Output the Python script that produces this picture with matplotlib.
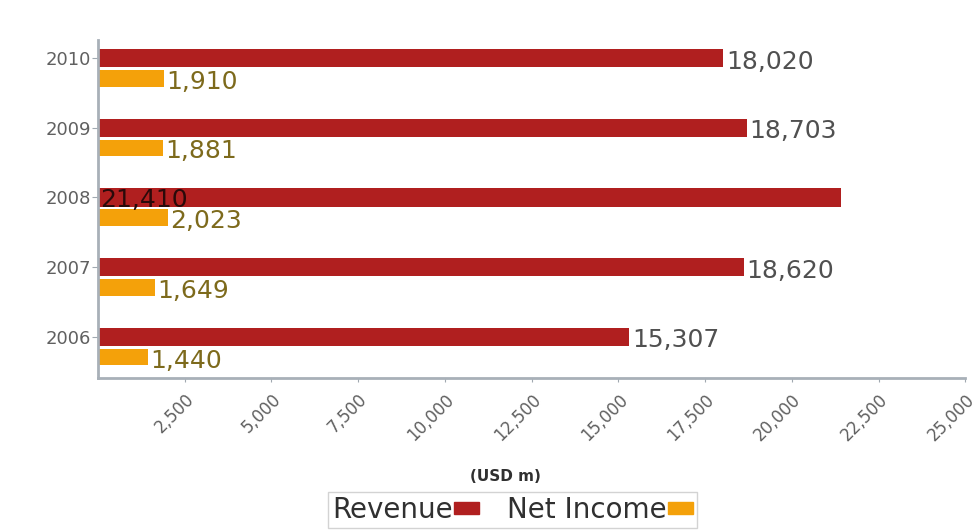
import matplotlib
matplotlib.use("Agg")
import matplotlib.pyplot as plt
from matplotlib.patches import Patch

# data
years = ["2006", "2007", "2008", "2009", "2010"]
revenue = [15307, 18620, 21410, 18703, 18020]
net_income = [1440, 1649, 2023, 1881, 1910]
x_ticks = [2500, 5000, 7500, 10000, 12500, 15000, 17500, 20000, 22500, 25000]

rev_color = "#b01f1f"
ni_color = "#f4a10a"
label_gray = "#505050"
ni_text = "#7d6a1c"

fig = plt.figure(figsize=(9.8, 5.32), dpi=100)
ax = fig.add_axes([0.1, 0.2895, 0.885, 0.6355])

pos = list(range(len(years)))
rev_y = [p for p in pos]
ni_y = [p - 0.29 for p in pos]

ax.barh(rev_y, revenue, height=0.26, color=rev_color)
ax.barh(ni_y, net_income, height=0.24, color=ni_color)

# value labels
for y, v in zip(rev_y, revenue):
    if v > 20000:
        # the biggest one sits inside the bar, at its start
        ax.text(60, y - 0.03, f"{v:,}", va="center", ha="left",
                fontsize=18, color="#2a0a0a")
    else:
        ax.text(v + 80, y - 0.05, f"{v:,}", va="center", ha="left",
                fontsize=18, color=label_gray)
for y, v in zip(ni_y, net_income):
    ax.text(v + 60, y - 0.05, f"{v:,}", va="center", ha="left",
            fontsize=18, color=ni_text)

ax.set_xlim(0, 25000)
ax.set_ylim(-0.59, 4.26)
ax.set_yticks(pos)
ax.set_yticklabels(years, fontsize=13, color="#606060")
ax.set_xticks(x_ticks)
ax.set_xticklabels([f"{t:,}" for t in x_ticks], rotation=45, ha="right",
                   rotation_mode="anchor", fontsize=12, color="#606060")
ax.tick_params(axis="y", length=4, color="#a0a8b0", pad=1)
ax.tick_params(axis="x", length=3, color="#a0a8b0", pad=6)
for s in ["top", "right"]:
    ax.spines[s].set_visible(False)
for s in ["left", "bottom"]:
    ax.spines[s].set_color("#a8b0b8")
    ax.spines[s].set_linewidth(2)

ax.set_xlabel("(USD m)", fontsize=11, fontweight="bold", color="#303030",
              labelpad=2)
ax.xaxis.set_label_coords(0.47, -0.27)

handles = [Patch(color=rev_color), Patch(color=ni_color)]
leg = fig.legend(handles, ["Revenue", "Net Income"], loc="center",
                 bbox_to_anchor=(0.523, 0.0414), ncol=2, markerfirst=False,
                 fontsize=20, frameon=True, fancybox=False,
                 handlelength=0.9, handleheight=0.3, handletextpad=0.05,
                 columnspacing=1.0, borderpad=0.15, borderaxespad=0,
                 labelcolor="#303030")
leg.get_frame().set_edgecolor("#c8c8c8")

fig.savefig("out.png", dpi=100)
